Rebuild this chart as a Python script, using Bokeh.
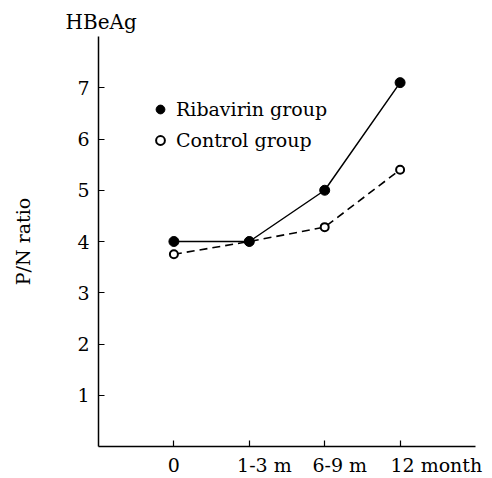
from bokeh.plotting import figure
from bokeh.models import FixedTicker, Legend, LegendItem
from bokeh.embed import file_html
from bokeh.resources import INLINE

# ---- data ----
categories = ["0", "1-3", "6-9", "12"]
unit_suffix = ["", "m", "m", "month"]
x_idx = [0, 1, 2, 3]
ribavirin = [4.0, 4.0, 5.0, 7.1]
control = [3.75, 4.0, 4.28, 5.4]
y_ticks = [1, 2, 3, 4, 5, 6, 7]
x_start, x_end = -1, 4
y_start, y_end = 0, 8

FONT = "DejaVu Serif"
FS = "19px"
NBSP = "\u00a0"

p = figure(width=492, height=478, x_range=(x_start, x_end), y_range=(y_start, y_end),
           output_backend="svg", toolbar_location=None,
           min_border_left=98, min_border_top=36, min_border_right=17,
           min_border_bottom=31)
p.outline_line_color = None
p.grid.visible = False
p.background_fill_color = "white"

# lines and markers
p.line(x_idx, control, line_color="black", line_width=1.6, line_dash="8 5")
p.line(x_idx, ribavirin, line_color="black", line_width=1.5)
r_ctrl = p.scatter(x_idx, control, size=8, fill_color="white", line_color="black",
                   line_width=2)
r_rib = p.scatter(x_idx, ribavirin, size=10, fill_color="black", line_color="black")

# axes
for ax in (p.xaxis[0], p.yaxis[0]):
    ax.axis_line_color = "black"
    ax.axis_line_width = 1.5
    ax.major_tick_in = 6
    ax.major_tick_out = 0
    ax.minor_tick_line_color = None
    ax.major_tick_line_color = "black"
    ax.major_tick_line_width = 1.2
    ax.major_label_text_font = FONT
    ax.major_label_text_font_size = FS
    ax.major_label_text_color = "black"

# x tick labels: number centred on the tick, unit trailing to the right
lead = {"": 0, "m": 5, "month": 12}
labels = {}
for i, c, s in zip(x_idx, categories, unit_suffix):
    labels[i] = (NBSP * lead[s] + c + " " + s) if s else c
p.xaxis.ticker = FixedTicker(ticks=x_idx)
p.xaxis.major_label_overrides = labels
p.xaxis.major_label_standoff = 7

p.yaxis.ticker = FixedTicker(ticks=y_ticks)
p.yaxis.major_label_standoff = 9
p.yaxis.axis_label = "P/N ratio"
p.yaxis.axis_label_text_font = FONT
p.yaxis.axis_label_text_font_size = "19px"
p.yaxis.axis_label_text_font_style = "normal"
p.yaxis.axis_label_text_color = "black"
p.yaxis.axis_label_standoff = 40

# title above the y axis
p.title.text = "HBeAg"
p.title.align = "left"
p.title.offset = -33
p.title.standoff = 6
p.title.text_font = FONT
p.title.text_font_size = "20px"
p.title.text_font_style = "normal"
p.title.text_color = "black"

legend = Legend(items=[LegendItem(label="Ribavirin group", renderers=[r_rib]),
                       LegendItem(label="Control group", renderers=[r_ctrl])],
                location=(51, 295), glyph_width=22, glyph_height=22,
                label_height=22, spacing=9, padding=0, margin=0,
                label_standoff=5, border_line_color=None,
                background_fill_alpha=0, label_text_font=FONT,
                label_text_font_size=FS, label_text_color="black")
p.add_layout(legend, "center")

open("out.html", "w").write(file_html(p, INLINE))
